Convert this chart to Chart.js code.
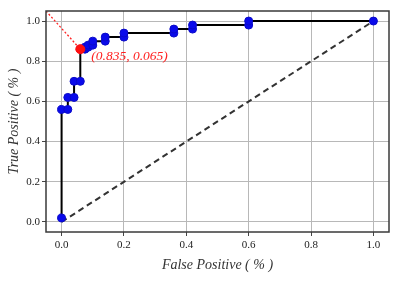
<!DOCTYPE html>
<html>
<head>
<meta charset="utf-8">
<script src="https://cdn.jsdelivr.net/npm/chart.js@4/dist/chart.umd.min.js"></script>
<style>
  html, body { margin: 0; padding: 0; background: #fff; }
  #wrap { width: 399px; height: 283px; }
</style>
</head>
<body>
<div id="wrap"><canvas id="rocChart" width="399" height="283"></canvas></div>
<script>
// ROC curve values
const fpr = [0, 0, 0.02, 0.02, 0.04, 0.04, 0.06, 0.06, 0.075, 0.075, 0.085, 0.085, 0.10, 0.10, 0.14, 0.14, 0.20, 0.20, 0.36, 0.36, 0.42, 0.42, 0.60, 0.60, 1.0];
const tpr = [0.02, 0.56, 0.56, 0.62, 0.62, 0.70, 0.70, 0.86, 0.86, 0.87, 0.87, 0.88, 0.88, 0.90, 0.90, 0.92, 0.92, 0.94, 0.94, 0.96, 0.96, 0.98, 0.98, 1.0, 1.0];
const chanceX = [0, 1];
const chanceY = [0, 1];
const bestPoint = [0.06, 0.86];
const cornerPoint = [-0.05, 1.05];
const bestLabel = '(0.835, 0.065)';
const tickValues = [0, 0.2, 0.4, 0.6, 0.8, 1.0];

const toXY = (xs, ys) => xs.map((x, i) => ({ x: x, y: ys[i] }));

const serif = '"Liberation Serif", "DejaVu Serif", serif';

// full frame around the plot area + the annotation text
const framePlugin = {
    id: 'frame',
    afterDraw(chart) {
        const { ctx, chartArea: a, scales } = chart;
        ctx.save();
        ctx.strokeStyle = '#3a3a3a';
        ctx.lineWidth = 1.5;
        ctx.strokeRect(a.left, a.top, a.right - a.left, a.bottom - a.top);

        const px = scales.x.getPixelForValue(bestPoint[0]);
        const py = scales.y.getPixelForValue(bestPoint[1]);
        ctx.fillStyle = '#ff2020';
        ctx.font = 'italic 13.5px ' + serif;
        ctx.textBaseline = 'middle';
        ctx.fillText(bestLabel, px + 11, py + 7.5);
        ctx.restore();
    }
};

const tickSetup = function(scale) {
    scale.ticks = tickValues.map(v => ({ value: v }));
};

new Chart(document.getElementById('rocChart'), {
    type: 'scatter',
    data: {
        datasets: [
            {
                data: [{ x: bestPoint[0], y: bestPoint[1] }],
                pointRadius: 4.5,
                pointBackgroundColor: '#ff1010',
                pointBorderColor: '#ff1010',
                order: 0
            },
            {
                data: toXY(fpr, tpr),
                showLine: true,
                borderColor: '#000',
                borderWidth: 2,
                pointRadius: 4,
                pointBackgroundColor: 'rgb(10,10,235)',
                pointBorderColor: 'rgb(10,10,200)',
                pointBorderWidth: 1,
                order: 1
            },
            {
                data: [{ x: cornerPoint[0], y: cornerPoint[1] }, { x: bestPoint[0], y: bestPoint[1] }],
                showLine: true,
                borderColor: '#ff2020',
                borderWidth: 1.3,
                borderDash: [2, 2],
                pointRadius: 0,
                order: 2
            },
            {
                data: toXY(chanceX, chanceY),
                showLine: true,
                borderColor: '#333',
                borderWidth: 2,
                borderDash: [6, 4],
                pointRadius: 0,
                order: 3
            }
        ]
    },
    options: {
        responsive: false,
        animation: false,
        events: [],
        layout: { padding: { top: 11, right: 10, left: 0, bottom: 0 } },
        plugins: { legend: { display: false }, tooltip: { enabled: false } },
        scales: {
            x: {
                min: -0.05,
                max: 1.05,
                afterBuildTicks: tickSetup,
                afterFit(scale) { scale.height = 51; },
                border: { display: false },
                grid: { color: '#b8b8b8', lineWidth: 1, tickLength: 4, tickColor: '#444' },
                ticks: {
                    color: '#222',
                    padding: 3,
                    font: { family: serif, size: 11 },
                    callback: v => Number(v).toFixed(1)
                },
                title: {
                    display: true,
                    text: 'False Positive ( % )',
                    color: '#333',
                    padding: { top: 0, bottom: 9 },
                    font: { family: serif, size: 14, style: 'italic' }
                }
            },
            y: {
                min: -0.05,
                max: 1.05,
                afterBuildTicks: tickSetup,
                afterFit(scale) { scale.width = 46; },
                border: { display: false },
                grid: { color: '#b8b8b8', lineWidth: 1, tickLength: 4, tickColor: '#444' },
                ticks: {
                    color: '#222',
                    padding: 2,
                    font: { family: serif, size: 11 },
                    callback: v => Number(v).toFixed(1)
                },
                title: {
                    display: true,
                    text: 'True Positive ( % )',
                    color: '#333',
                    padding: { top: 5.5, bottom: 0 },
                    font: { family: serif, size: 14, style: 'italic' }
                }
            }
        }
    },
    plugins: [framePlugin]
});
</script>
</body>
</html>
